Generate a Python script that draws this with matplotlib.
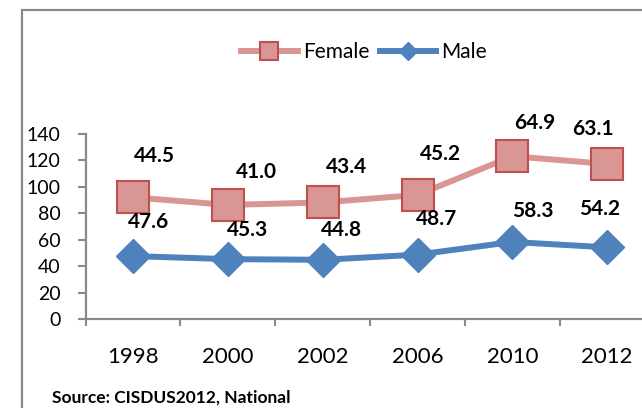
import numpy as np
import matplotlib
matplotlib.use("Agg")
import matplotlib.pyplot as plt
from matplotlib.patches import Rectangle

plt.rcParams["font.family"] = ["Lato", "DejaVu Sans"]

# datos (lineas apiladas)
anios = ["1998", "2000", "2002", "2006", "2010", "2012"]
hombres = [47.6, 45.3, 44.8, 48.7, 58.3, 54.2]
mujeres = [44.5, 41.0, 43.4, 45.2, 64.9, 63.1]
y_ticks = [0, 20, 40, 60, 80, 100, 120, 140]

# desplazamiento de las etiquetas (pixeles)
off_muj = [(21, 41), (29, 33), (24, 35), (23, 41), (22, 33), (-14, 35)]
off_hom = [(16, 34), (20, 29), (19, 30), (19, 36), (20, 31), (-8, 38)]

COLOR_F = "#D99694"
BORDE_F = "#C0504D"
COLOR_M = "#4F81BD"
GRIS = "#898989"

W, H = 642, 408
fig = plt.figure(figsize=(W / 100, H / 100), dpi=100)

# marco exterior del grafico
fig.patches.append(
    Rectangle((22 / W, -0.2), 1.2, 1.2 - 10 / H, transform=fig.transFigure,
              fill=False, edgecolor=GRIS, linewidth=1.6)
)

ax = fig.add_axes([85.6 / W, (H - 319) / H, 569 / W, 185 / H])

x = np.arange(len(anios))
apilado = np.add(hombres, mujeres)

ax.plot(x, apilado, color=COLOR_F, linewidth=4.3, marker="s", markersize=23,
        markerfacecolor=COLOR_F, markeredgecolor=BORDE_F, markeredgewidth=1.5,
        label="Female", zorder=3)
ax.plot(x, hombres, color=COLOR_M, linewidth=4.3, marker="D", markersize=17.5,
        markerfacecolor=COLOR_M, markeredgecolor=COLOR_M, markeredgewidth=1,
        label="Male", zorder=3)

for i in range(len(anios)):
    ax.annotate(f"{mujeres[i]:.1f}", (x[i], apilado[i]), xytext=off_muj[i],
                textcoords="offset pixels", ha="center", va="center",
                fontsize=15, fontweight="bold", zorder=5)
    ax.annotate(f"{hombres[i]:.1f}", (x[i], hombres[i]), xytext=off_hom[i],
                textcoords="offset pixels", ha="center", va="center",
                fontsize=15, fontweight="bold", zorder=5)

ax.set_xlim(-0.5, len(anios) - 0.5)
ax.set_ylim(0, 140)
ax.set_yticks(y_ticks)
ax.set_yticklabels([str(v) for v in y_ticks], fontsize=14)

# marcas entre categorias, etiquetas en el centro
ax.set_xticks(np.arange(-0.5, len(anios), 1.0))
ax.set_xticklabels([])
ax.set_xticks(x, minor=True)
ax.set_xticklabels(anios, minor=True, fontsize=16)
ax.tick_params(axis="x", which="major", length=5, width=1.5, color=GRIS,
               direction="out")
ax.tick_params(axis="x", which="minor", length=0, pad=20)
ax.tick_params(axis="y", length=6, width=1.5, color=GRIS, pad=12)

for lado in ["top", "right"]:
    ax.spines[lado].set_visible(False)
for lado in ["left", "bottom"]:
    ax.spines[lado].set_color(GRIS)
    ax.spines[lado].set_linewidth(1.6)

fig.legend(loc="center", bbox_to_anchor=(364 / W, 1 - 52 / H), ncol=2,
           frameon=False, fontsize=15, markerscale=0.55, handlelength=2.7,
           handletextpad=0.25, columnspacing=0.5)

fig.text(52 / W, 1 - 403 / H, "Source: CISDUS2012, National", fontsize=12.5,
         fontweight="bold", va="baseline", ha="left")

fig.savefig("out.png", dpi=100)
